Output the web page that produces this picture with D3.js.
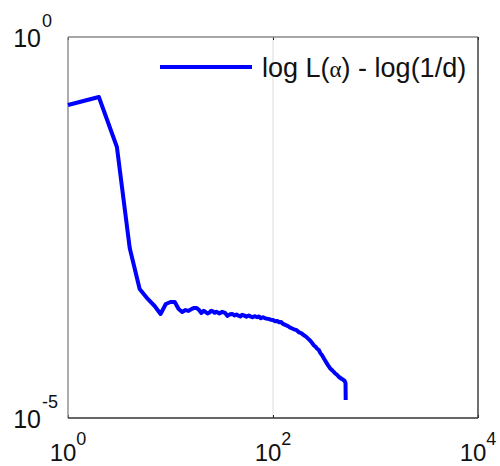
<!DOCTYPE html>
<html>
<head>
<meta charset="utf-8">
<script src="https://cdn.jsdelivr.net/npm/d3@7"></script>
<style>
  body { margin: 0; background: #fff; }
  text { font-family: "Liberation Sans", Arial, sans-serif; fill: #111; }
</style>
</head>
<body>
<div id="chart"></div>
<script>
// Values.
let xValues = [1, 2, 3, 4, 5, 6, 7, 8, 9, 10, 11, 12, 13, 14, 15, 16, 17, 18, 19,
    20, 21, 22, 23, 24, 25, 26, 27, 28, 30, 32, 34, 36, 38, 40, 42, 44, 46, 48, 50,
    52, 55, 58, 60, 63, 66, 70, 73, 76, 80, 85, 90, 95, 100, 105, 110, 115, 120,
    125, 130, 135, 140, 145, 150, 160, 170, 180, 190, 200, 210, 220, 230, 240,
    250, 260, 270, 280, 290, 300, 315, 330, 345, 360, 380, 400, 420, 440, 470,
    500, 510, 512];
let yValues = [0.128, 0.163, 0.036, 0.0017, 4.93e-4, 3.65e-4, 2.95e-4, 2.32e-4, 3.13e-4, 3.33e-4,
    3.33e-4, 2.69e-4, 2.46e-4, 2.61e-4, 2.54e-4, 2.69e-4, 2.78e-4, 2.78e-4, 2.61e-4,
    2.39e-4, 2.55e-4, 2.46e-4, 2.35e-4, 2.42e-4, 2.55e-4, 2.5e-4, 2.4e-4, 2.48e-4, 2.36e-4,
    2.47e-4, 2.4e-4, 2.18e-4, 2.3e-4, 2.32e-4, 2.22e-4, 2.28e-4, 2.2e-4, 2.15e-4, 2.26e-4,
    2.22e-4, 2.14e-4, 2.22e-4, 2.16e-4, 2.1e-4, 2.17e-4, 2.1e-4, 2.15e-4, 2.04e-4, 2.1e-4,
    2.02e-4, 2.0e-4, 1.95e-4, 1.93e-4, 1.86e-4, 1.88e-4, 1.8e-4, 1.82e-4,
    1.72e-4, 1.68e-4, 1.64e-4, 1.61e-4, 1.55e-4, 1.52e-4, 1.46e-4, 1.42e-4, 1.33e-4, 1.29e-4,
    1.22e-4, 1.17e-4, 1.1e-4, 1.04e-4, 9.7e-5, 9.0e-5, 8.6e-5, 8.1e-5, 7.8e-5, 7.1e-5,
    6.7e-5, 6.0e-5, 5.4e-5, 4.9e-5, 4.5e-5, 4.2e-5, 3.9e-5, 3.7e-5, 3.45e-5, 3.25e-5,
    3.06e-5, 2.88e-5, 1.72e-5];
let xTicks = [1, 1e2, 1e4];
let xTickExp = ["0", "2", "4"];
let yTicks = [1, 1e-5];
let yTickExp = ["0", "-5"];
let legendLabel = ["log L(", "\u03b1", ") - log(1/d)"];

let width = 500,
    height = 466;
let plot = { left: 68, right: 478, top: 37, bottom: 418 };

let svg = d3.select("#chart").append("svg")
    .attr("width", width)
    .attr("height", height);

let x = d3.scaleLog().domain([1, 1e4]).range([plot.left, plot.right]);
let y = d3.scaleLog().domain([1e-5, 1]).range([plot.bottom, plot.top]);

// Vertical grid line at 10^2
svg.append("line")
    .attr("x1", x(1e2)).attr("x2", x(1e2))
    .attr("y1", plot.top).attr("y2", plot.bottom)
    .attr("stroke", "#dcdcdc")
    .attr("stroke-width", 1);

// Inner ticks on the bottom and top edges
svg.append("g")
    .attr("transform", "translate(0," + plot.bottom + ")")
    .call(d3.axisBottom(x).tickValues(xTicks).tickSizeInner(-3).tickSizeOuter(0).tickFormat(""))
    .call(g => g.select(".domain").remove())
    .selectAll("line").attr("stroke", "#222");
svg.append("g")
    .attr("transform", "translate(0," + plot.top + ")")
    .call(d3.axisTop(x).tickValues(xTicks).tickSizeInner(-3).tickSizeOuter(0).tickFormat(""))
    .call(g => g.select(".domain").remove())
    .selectAll("line").attr("stroke", "#222");

// Box: top/left lighter, bottom/right darker
svg.append("line").attr("x1", plot.left).attr("x2", plot.right).attr("y1", plot.top).attr("y2", plot.top)
    .attr("stroke", "#8a8a8a").attr("stroke-width", 1.4);
svg.append("line").attr("x1", plot.left).attr("x2", plot.left).attr("y1", plot.top).attr("y2", plot.bottom)
    .attr("stroke", "#8a8a8a").attr("stroke-width", 1.4);
svg.append("line").attr("x1", plot.left).attr("x2", plot.right).attr("y1", plot.bottom).attr("y2", plot.bottom)
    .attr("stroke", "#333").attr("stroke-width", 1.4);
svg.append("line").attr("x1", plot.right).attr("x2", plot.right).attr("y1", plot.top).attr("y2", plot.bottom)
    .attr("stroke", "#333").attr("stroke-width", 1.4);

// X tick labels with superscript exponents
let xLab = svg.selectAll(".xlab")
    .data(xTicks)
    .enter().append("text")
    .attr("class", "xlab")
    .attr("x", function (d) { return x(d); })
    .attr("y", plot.bottom + 43)
    .attr("text-anchor", "middle")
    .style("font-size", "24px");
xLab.append("tspan").text("10");
xLab.append("tspan")
    .attr("dy", -16)
    .style("font-size", "18px")
    .text(function (d, i) { return xTickExp[i]; });

// Y tick labels: the "10" parts are right-aligned, exponents hang to the right
svg.selectAll(".ylab")
    .data(yTicks)
    .enter().append("text")
    .attr("class", "ylab")
    .attr("x", plot.left - 27)
    .attr("y", function (d) { return y(d) + 10; })
    .attr("text-anchor", "end")
    .style("font-size", "25px")
    .text("10");
svg.selectAll(".yexp")
    .data(yTicks)
    .enter().append("text")
    .attr("class", "yexp")
    .attr("x", plot.left - 26)
    .attr("y", function (d) { return y(d) - 10; })
    .style("font-size", "18px")
    .text(function (d, i) { return yTickExp[i]; });

// The data line
let data = xValues.map(function (d, i) { return { x: d, y: yValues[i] }; });
let line = d3.line()
    .x(function (d) { return x(d.x); })
    .y(function (d) { return y(d.y); });
svg.append("path")
    .datum(data)
    .attr("d", line)
    .attr("fill", "none")
    .attr("stroke", "#0000ff")
    .attr("stroke-width", 4)
    .attr("stroke-linejoin", "round");

// Legend
svg.append("line")
    .attr("x1", 160).attr("x2", 252)
    .attr("y1", 67).attr("y2", 67)
    .attr("stroke", "#0000ff")
    .attr("stroke-width", 4);
let leg = svg.append("text")
    .attr("x", 262)
    .attr("y", 77)
    .style("font-size", "27px");
leg.append("tspan").text(legendLabel[0]);
leg.append("tspan").style("font-family", "'Liberation Serif', serif").style("font-size", "23px").text(legendLabel[1]);
leg.append("tspan").text(legendLabel[2]);
</script>
</body>
</html>
